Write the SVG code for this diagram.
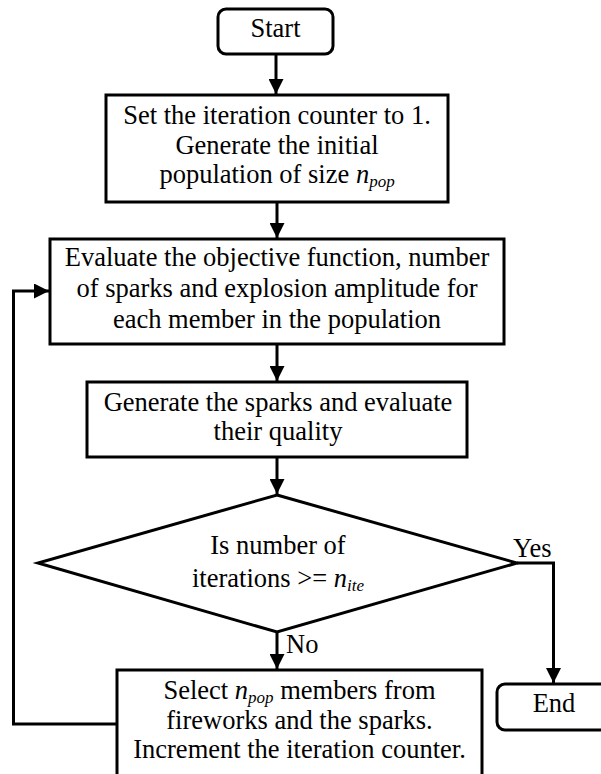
<svg xmlns="http://www.w3.org/2000/svg" width="601" height="774" viewBox="0 0 601 774" font-family="'Liberation Serif', 'Times New Roman', 'DejaVu Serif', serif">
<style>
.box{fill:#fff;stroke:#000;stroke-width:3}
.ln{fill:none;stroke:#000;stroke-width:3}
text{font-family:'Liberation Serif','Times New Roman','DejaVu Serif',serif;font-size:26.5px;fill:#000}
.c{text-anchor:middle}
.i{font-style:italic}
.s{font-size:17px;font-style:italic}
</style>
<defs>
<marker id="ah" markerWidth="5" markerHeight="5" refX="5" refY="2.5" orient="auto" markerUnits="strokeWidth">
<path d="M0,0 L5,2.5 L0,5 Z" fill="#000"/>
</marker>
</defs>
<rect width="601" height="774" fill="#fff"/>
<g id="connectors">
<line class="ln" x1="276" y1="54" x2="276" y2="94" marker-end="url(#ah)"/>
<line class="ln" x1="277" y1="202" x2="277" y2="238" marker-end="url(#ah)"/>
<line class="ln" x1="277" y1="344" x2="277" y2="381" marker-end="url(#ah)"/>
<line class="ln" x1="277" y1="457" x2="277" y2="494" marker-end="url(#ah)"/>
<line class="ln" x1="277" y1="632" x2="277" y2="669" marker-end="url(#ah)"/>
<polyline class="ln" points="517,563 553.5,563 553.5,683" marker-end="url(#ah)"/>
<polyline class="ln" points="117,724 13.5,724 13.5,291 49,291" marker-end="url(#ah)"/>
<text x="513" y="557">Yes</text>
<text x="286" y="653">No</text>
</g>
<g id="start">
<rect class="box" x="218" y="9" width="115" height="45" rx="8"/>
<text class="c" x="275.5" y="37">Start</text>
</g>
<g id="init">
<rect class="box" x="106" y="95" width="342" height="107"/>
<text class="c" x="277" y="124">Set the iteration counter to 1.</text>
<text class="c" x="277" y="154">Generate the initial</text>
<text class="c" x="277" y="183">population of size <tspan class="i">n</tspan><tspan class="s" dy="4">pop</tspan></text>
</g>
<g id="evaluate">
<rect class="box" x="50" y="239" width="454" height="105"/>
<text class="c" x="277" y="266">Evaluate the objective function, number</text>
<text class="c" x="277" y="297">of sparks and explosion amplitude for</text>
<text class="c" x="277" y="328">each member in the population</text>
</g>
<g id="sparks">
<rect class="box" x="87" y="382" width="380" height="75"/>
<text class="c" x="278" y="411">Generate the sparks and evaluate</text>
<text class="c" x="278" y="440">their quality</text>
</g>
<g id="decision">
<polygon class="box" points="277,495 517,563 277,632 38,563"/>
<text class="c" x="278" y="554">Is number of</text>
<text class="c" x="278" y="587">iterations &gt;= <tspan class="i">n</tspan><tspan class="s" dy="4">ite</tspan></text>
</g>
<g id="select">
<rect class="box" x="117" y="670" width="365" height="120"/>
<text class="c" x="299.5" y="699">Select <tspan class="i">n</tspan><tspan class="s" dy="4">pop</tspan><tspan dy="-4"> members from</tspan></text>
<text class="c" x="299.5" y="729">fireworks and the sparks.</text>
<text class="c" x="299.5" y="758">Increment the iteration counter.</text>
</g>
<g id="end">
<rect class="box" x="497" y="684" width="115" height="46" rx="8"/>
<text class="c" x="554" y="712">End</text>
</g>
</svg>
